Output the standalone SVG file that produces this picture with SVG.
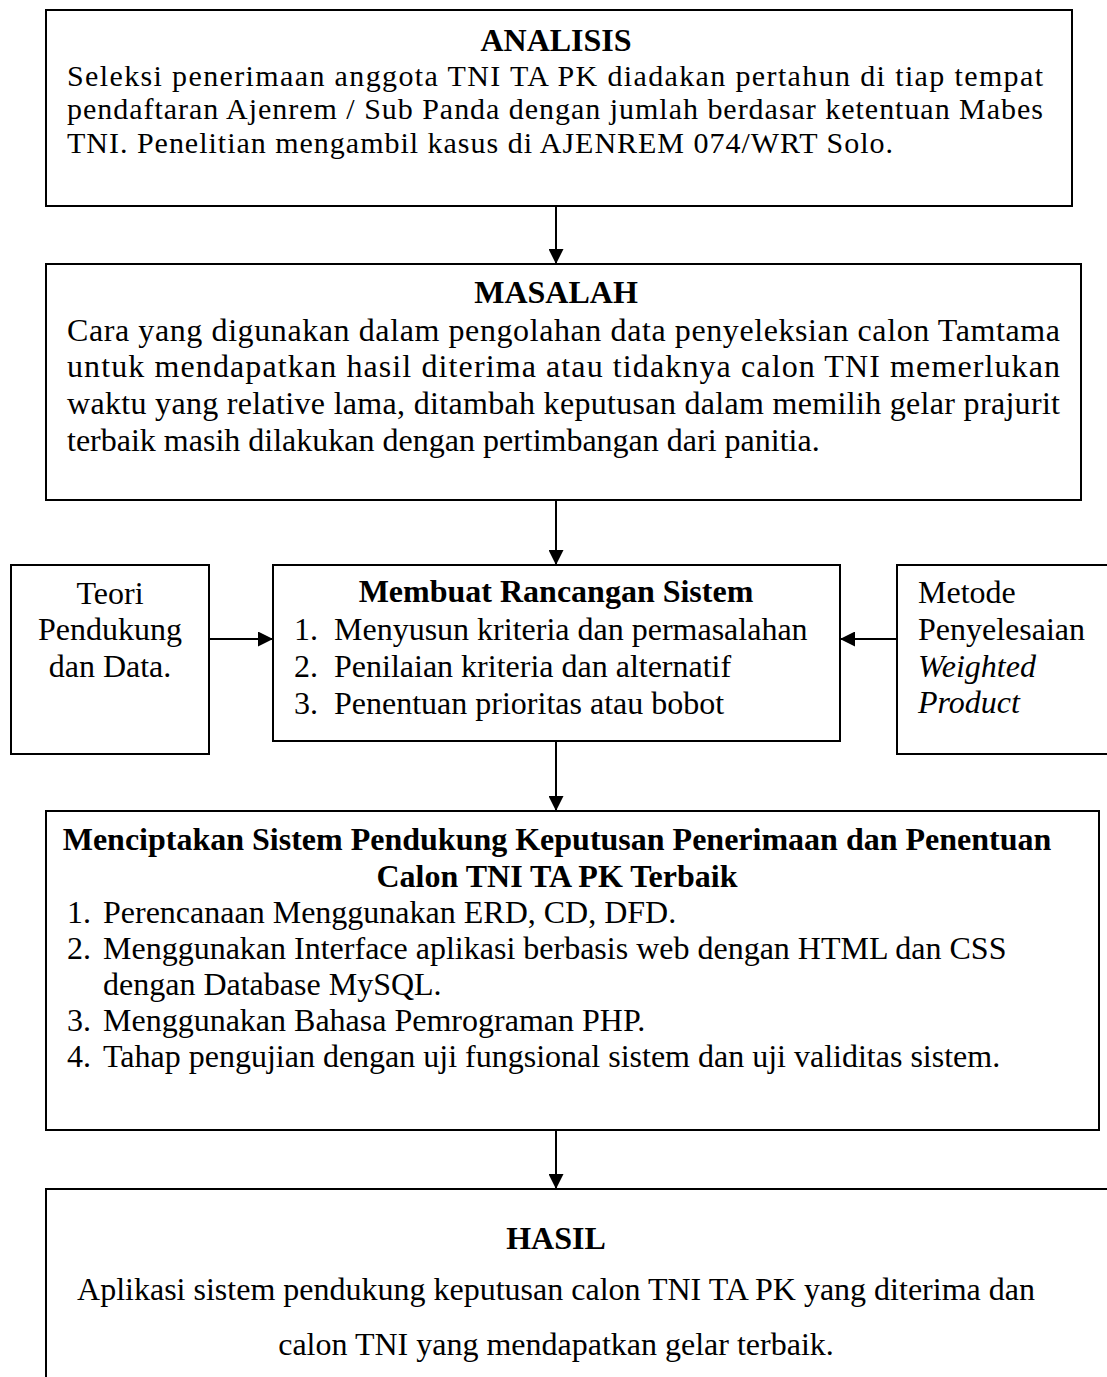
<svg xmlns="http://www.w3.org/2000/svg" width="1107" height="1377" viewBox="0 0 1107 1377">
<style>
  .box { fill: #fff; stroke: #000; stroke-width: 2; }
  .t { font-family: "Liberation Serif", "Times New Roman", serif; font-size: 32px; fill: #000; }
  .s { font-size: 30px; }
  .b { font-weight: bold; }
  .c { text-anchor: middle; }
  .i { font-style: italic; }
  .conn { stroke: #000; stroke-width: 2; fill: none; marker-end: url(#ah); }
</style>
<defs>
  <marker id="ah" viewBox="0 0 15 15" refX="15" refY="7.5" markerWidth="15" markerHeight="15" markerUnits="userSpaceOnUse" orient="auto">
    <path d="M0,0 L15,7.5 L0,15 Z" fill="#000"/>
  </marker>
</defs>
<rect width="1107" height="1377" fill="#fff"/>

<g id="connectors">
  <line class="conn" x1="556" y1="206" x2="556" y2="264"/>
  <line class="conn" x1="556" y1="500" x2="556" y2="565"/>
  <line class="conn" x1="209" y1="639" x2="273" y2="639"/>
  <line class="conn" x1="897" y1="639" x2="840" y2="639"/>
  <line class="conn" x1="556" y1="741" x2="556" y2="811"/>
  <line class="conn" x1="556" y1="1130" x2="556" y2="1189"/>
</g>

<g id="analisis">
  <rect class="box" x="46" y="10" width="1026" height="196"/>
  <text class="t b c" x="556" y="51">ANALISIS</text>
  <text class="t s" x="67" y="85.5" textLength="976" lengthAdjust="spacing">Seleksi penerimaan anggota TNI TA PK diadakan pertahun di tiap tempat</text>
  <text class="t s" x="67" y="119" textLength="976" lengthAdjust="spacing">pendaftaran Ajenrem / Sub Panda dengan jumlah berdasar ketentuan Mabes</text>
  <text class="t s" x="67" y="152.5" textLength="826" lengthAdjust="spacing">TNI. Penelitian mengambil kasus di AJENREM 074/WRT Solo.</text>
</g>

<g id="masalah">
  <rect class="box" x="46" y="264" width="1035" height="236"/>
  <text class="t b c" x="556" y="303">MASALAH</text>
  <text class="t" x="67" y="341" textLength="993" lengthAdjust="spacing">Cara yang digunakan dalam pengolahan data penyeleksian calon Tamtama</text>
  <text class="t" x="67" y="377" textLength="993" lengthAdjust="spacing">untuk mendapatkan hasil diterima atau tidaknya calon TNI memerlukan</text>
  <text class="t" x="67" y="414" textLength="993" lengthAdjust="spacing">waktu yang relative lama, ditambah keputusan dalam memilih gelar prajurit</text>
  <text class="t" x="67" y="451">terbaik masih dilakukan dengan pertimbangan dari panitia.</text>
</g>

<g id="teori">
  <rect class="box" x="11" y="565" width="198" height="189"/>
  <text class="t c" x="110" y="604">Teori</text>
  <text class="t c" x="110" y="640">Pendukung</text>
  <text class="t c" x="110" y="677">dan Data.</text>
</g>

<g id="rancangan">
  <rect class="box" x="273" y="565" width="567" height="176"/>
  <text class="t b c" x="556" y="602">Membuat Rancangan Sistem</text>
  <text class="t" x="294" y="640">1.</text>
  <text class="t" x="334" y="640">Menyusun kriteria dan permasalahan</text>
  <text class="t" x="294" y="677">2.</text>
  <text class="t" x="334" y="677">Penilaian kriteria dan alternatif</text>
  <text class="t" x="294" y="714">3.</text>
  <text class="t" x="334" y="714">Penentuan prioritas atau bobot</text>
</g>

<g id="metode">
  <rect class="box" x="897" y="565" width="214" height="189"/>
  <text class="t" x="918" y="603">Metode</text>
  <text class="t" x="918" y="640">Penyelesaian</text>
  <text class="t i" x="918" y="677">Weighted</text>
  <text class="t i" x="918" y="713">Product</text>
</g>

<g id="menciptakan">
  <rect class="box" x="46" y="811" width="1053" height="319"/>
  <text class="t b c" x="557" y="850">Menciptakan Sistem Pendukung Keputusan Penerimaan dan Penentuan</text>
  <text class="t b c" x="557" y="887">Calon TNI TA PK Terbaik</text>
  <text class="t" x="67" y="923">1.</text>
  <text class="t" x="103" y="923">Perencanaan Menggunakan ERD, CD, DFD.</text>
  <text class="t" x="67" y="959">2.</text>
  <text class="t" x="103" y="959">Menggunakan Interface aplikasi berbasis web dengan HTML dan CSS</text>
  <text class="t" x="103" y="995">dengan Database MySQL.</text>
  <text class="t" x="67" y="1031">3.</text>
  <text class="t" x="103" y="1031">Menggunakan Bahasa Pemrograman PHP.</text>
  <text class="t" x="67" y="1067">4.</text>
  <text class="t" x="103" y="1067">Tahap pengujian dengan uji fungsional sistem dan uji validitas sistem.</text>
</g>

<g id="hasil">
  <rect class="box" x="46" y="1189" width="1070" height="200"/>
  <text class="t b c" x="556" y="1249">HASIL</text>
  <text class="t c" x="556" y="1300">Aplikasi sistem pendukung keputusan calon TNI TA PK yang diterima dan</text>
  <text class="t c" x="556" y="1355">calon TNI yang mendapatkan gelar terbaik.</text>
</g>
</svg>
